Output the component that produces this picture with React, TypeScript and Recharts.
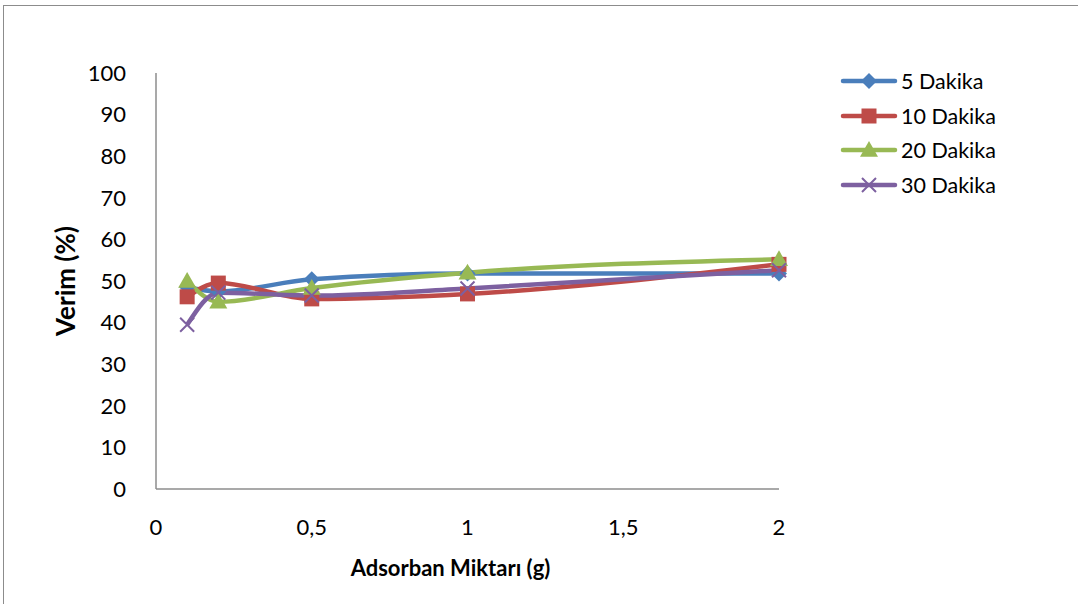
import React from "react";
import { Line, LineChart, XAxis, YAxis } from "recharts";

const amounts = [0.1, 0.2, 0.5, 1, 2];
const min5 = [48.5, 47.5, 50.4, 51.8, 51.8];
const min10 = [46.2, 49.5, 45.7, 46.9, 54];
const min20 = [50, 45, 48.3, 52, 55.2];
const min30 = [39.5, 47.2, 46.5, 48.2, 52.6];
const xTicks = [0, 0.5, 1, 1.5, 2];
const yTicks = [0, 10, 20, 30, 40, 50, 60, 70, 80, 90, 100];

const series = [
  { key: "m5", name: "5 Dakika", color: "#4a7ebb", shape: "diamond" },
  { key: "m10", name: "10 Dakika", color: "#be4b48", shape: "square" },
  { key: "m20", name: "20 Dakika", color: "#98b954", shape: "triangle" },
  { key: "m30", name: "30 Dakika", color: "#7d60a0", shape: "cross" },
];

const data = amounts.map((x, i) => ({
  x,
  m5: min5[i],
  m10: min10[i],
  m20: min20[i],
  m30: min30[i],
}));

const FONT = "Lato, 'Open Sans', sans-serif";

function Marker({ cx, cy, shape, color }: { cx: number; cy: number; shape: string; color: string }) {
  if (cx == null || cy == null) return null;
  if (shape === "diamond") {
    const r = 8;
    return <path d={`M${cx},${cy - r}L${cx + r},${cy}L${cx},${cy + r}L${cx - r},${cy}Z`} fill={color} />;
  }
  if (shape === "square") {
    const r = 7.5;
    return <rect x={cx - r} y={cy - r} width={r * 2} height={r * 2} fill={color} />;
  }
  if (shape === "triangle") {
    const r = 9;
    return <path d={`M${cx},${cy - r}L${cx + r},${cy + r * 0.75}L${cx - r},${cy + r * 0.75}Z`} fill={color} />;
  }
  const r = 7;
  return (
    <path
      d={`M${cx - r},${cy - r}L${cx + r},${cy + r}M${cx + r},${cy - r}L${cx - r},${cy + r}`}
      stroke={color}
      strokeWidth={2}
    />
  );
}

function LegendBox() {
  return (
    <div style={{ fontFamily: FONT }}>
      {series.map((s) => (
        <div key={s.key} style={{ display: "flex", alignItems: "center", height: 34.5 }}>
          <svg width={58} height={20}>
            <line x1={3} y1={10} x2={55} y2={10} stroke={s.color} strokeWidth={4.5} strokeLinecap="round" />
            <Marker cx={29} cy={10} shape={s.shape} color={s.color} />
          </svg>
          <span style={{ fontSize: 21.5, color: "#000", marginLeft: 3 }}>{s.name}</span>
        </div>
      ))}
    </div>
  );
}

export default function App() {
  return (
    <div style={{ position: "absolute", left: 0, top: 0, width: 1078, height: 604, overflow: "hidden", background: "#fff" }}>
      <div
        style={{
          position: "absolute",
          left: 3,
          top: 5,
          width: 1200,
          height: 800,
          border: "1.5px solid #8c8c8c",
        }}
      />
      <div style={{ position: "absolute", left: 0, top: 0 }}>
        <LineChart width={1078} height={604} data={data} margin={{ top: 73, right: 299, bottom: 0, left: 0 }}>
          <XAxis
            dataKey="x"
            type="number"
            domain={[0, 2]}
            ticks={xTicks}
            height={115}
            axisLine={{ stroke: "#8c8c8c", strokeWidth: 1.5 }}
            tickLine={false}
            tickMargin={24}
            tick={{ fill: "#000", fontSize: 22, fontFamily: FONT }}
            tickFormatter={(v: number) => String(v).replace(".", ",")}
            label={{
              value: "Adsorban Miktarı (g)",
              position: "insideBottom",
              offset: 28,
              dx: -17,
              style: { fill: "#000", fontSize: 22, fontWeight: 700, fontFamily: FONT },
            }}
          />
          <YAxis
            type="number"
            domain={[0, 100]}
            ticks={yTicks}
            width={156}
            interval={0}
            axisLine={{ stroke: "#8c8c8c", strokeWidth: 1.5 }}
            tickLine={false}
            tickMargin={24}
            tick={{ fill: "#000", fontSize: 22, fontFamily: FONT }}
            label={{
              value: "Verim (%)",
              angle: -90,
              position: "insideLeft",
              offset: 66,
              style: { fill: "#000", fontSize: 26, fontWeight: 700, fontFamily: FONT, textAnchor: "middle" },
            }}
          />
          {series.map((s) => (
            <Line
              key={s.key}
              dataKey={s.key}
              name={s.name}
              type="monotone"
              stroke={s.color}
              strokeWidth={4.5}
              isAnimationActive={false}
              activeDot={false}
              dot={(p: any) => <Marker key={`${s.key}-${p.index}`} cx={p.cx} cy={p.cy} shape={s.shape} color={s.color} />}
            />
          ))}
        </LineChart>
      </div>
      <div style={{ position: "absolute", left: 840, top: 64, width: 220 }}>
        <LegendBox />
      </div>
    </div>
  );
}
